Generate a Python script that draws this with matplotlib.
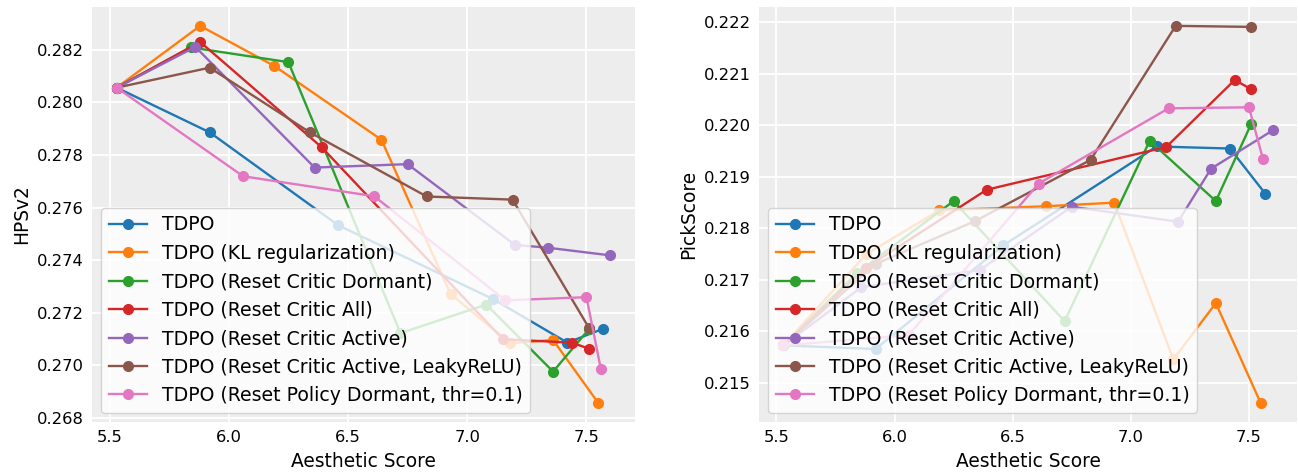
import matplotlib
matplotlib.use("Agg")
import matplotlib.pyplot as plt

# x = Aesthetic Score, shared by both panels per method
labels = [
    "TDPO",
    "TDPO (KL regularization)",
    "TDPO (Reset Critic Dormant)",
    "TDPO (Reset Critic All)",
    "TDPO (Reset Critic Active)",
    "TDPO (Reset Critic Active, LeakyReLU)",
    "TDPO (Reset Policy Dormant, thr=0.1)",
]

x_tdpo = [5.53, 5.92, 6.46, 7.11, 7.42, 7.57]
hps_tdpo = [0.28056, 0.27886, 0.27532, 0.27251, 0.27086, 0.27139]
pick_tdpo = [0.21573, 0.21566, 0.21767, 0.21959, 0.21955, 0.21867]

x_kl = [5.53, 5.88, 6.19, 6.64, 6.93, 7.18, 7.36, 7.55]
hps_kl = [0.28056, 0.28291, 0.28139, 0.27858, 0.27271, 0.27084, 0.27096, 0.26856]
pick_kl = [0.21573, 0.21750, 0.21835, 0.21843, 0.21850, 0.21546, 0.21655, 0.21461]

x_dormant = [5.53, 5.84, 6.25, 6.72, 7.08, 7.36, 7.51]
hps_dormant = [0.28056, 0.28209, 0.28153, 0.27122, 0.27231, 0.26976, 0.27137]
pick_dormant = [0.21573, 0.21713, 0.21853, 0.21620, 0.21970, 0.21853, 0.22003]

x_all = [5.53, 5.88, 6.39, 7.15, 7.44, 7.51]
hps_all = [0.28056, 0.28230, 0.27829, 0.27099, 0.27086, 0.27063]
pick_all = [0.21573, 0.21724, 0.21875, 0.21958, 0.22088, 0.22070]

x_active = [5.53, 5.86, 6.36, 6.75, 7.20, 7.34, 7.60]
hps_active = [0.28056, 0.28211, 0.27752, 0.27765, 0.27458, 0.27447, 0.27418]
pick_active = [0.21573, 0.21686, 0.21719, 0.21842, 0.21813, 0.21916, 0.21990]

x_leaky = [5.53, 5.92, 6.34, 6.83, 7.19, 7.51]
hps_leaky = [0.28056, 0.28132, 0.27886, 0.27642, 0.27630, 0.27143]
pick_leaky = [0.21573, 0.21731, 0.21814, 0.21933, 0.22193, 0.22191]

x_policy = [5.53, 6.06, 6.61, 7.16, 7.50, 7.56]
hps_policy = [0.28056, 0.27719, 0.27643, 0.27247, 0.27259, 0.26987]
pick_policy = [0.21573, 0.21593, 0.21887, 0.22033, 0.22035, 0.21934]

xs = [x_tdpo, x_kl, x_dormant, x_all, x_active, x_leaky, x_policy]
hps = [hps_tdpo, hps_kl, hps_dormant, hps_all, hps_active, hps_leaky, hps_policy]
picks = [pick_tdpo, pick_kl, pick_dormant, pick_all, pick_active, pick_leaky, pick_policy]

fig = plt.figure(figsize=(12.98, 4.73), dpi=100)
ax1 = fig.add_axes([92/1298, 1-422/473, (635-92)/1298, (422-7)/473])
ax2 = fig.add_axes([759/1298, 1-422/473, (1297-759)/1298, (422-7)/473])

for ax, ys, ylab in [(ax1, hps, "HPSv2"), (ax2, picks, "PickScore")]:
    ax.set_facecolor("#ededed")
    ax.set_axisbelow(True)
    ax.grid(True, color="white", linewidth=1.3)
    for s in ax.spines.values():
        s.set_visible(False)
    for i in range(len(labels)):
        ax.plot(xs[i], ys[i], "-o", color="C%d" % i, lw=1.7, ms=7, label=labels[i])
    ax.tick_params(length=0, labelsize=11.8, pad=6)
    ax.set_xticks([5.5, 6.0, 6.5, 7.0, 7.5])
    ax.set_xlabel("Aesthetic Score", fontsize=13.4, labelpad=5)
    ax.set_ylabel(ylab, fontsize=13.4)
    ax.legend(loc="lower left", fontsize=13.6)

ax1.set_yticks([0.268, 0.270, 0.272, 0.274, 0.276, 0.278, 0.280, 0.282])
ax2.set_yticks([0.215, 0.216, 0.217, 0.218, 0.219, 0.220, 0.221, 0.222])
ax1.yaxis.set_major_formatter(matplotlib.ticker.FormatStrFormatter("%.3f"))
ax2.yaxis.set_major_formatter(matplotlib.ticker.FormatStrFormatter("%.3f"))

fig.savefig("out.png", dpi=100)
